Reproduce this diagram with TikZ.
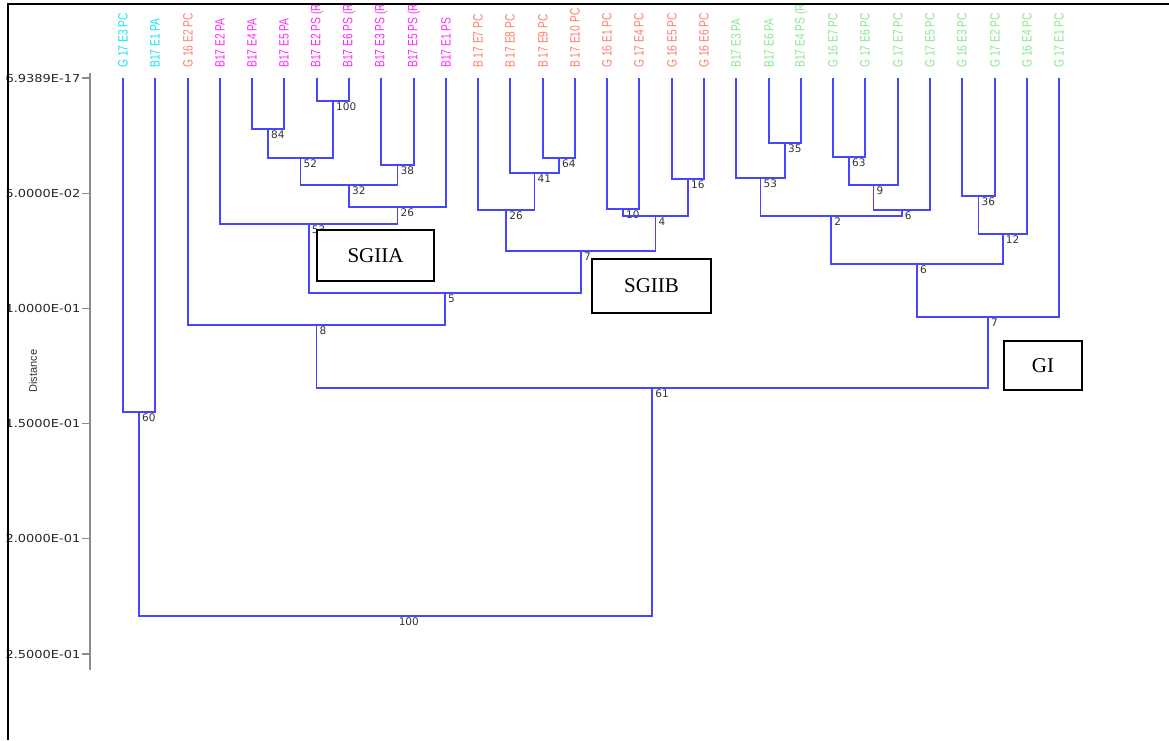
\documentclass[tikz,border=0pt]{standalone}
\usepackage{fontspec}
\usepackage{graphicx}
\usetikzlibrary{calc}
\newfontfamily\leaffont{Liberation Sans}
\newfontfamily\numfont{DejaVu Sans}
\newfontfamily\boxfont{Liberation Serif}
\definecolor{cyanlab}{RGB}{20,225,245}
\definecolor{pinklab}{RGB}{255,40,255}
\definecolor{salmonlab}{RGB}{255,125,105}
\definecolor{greenlab}{RGB}{140,230,140}
\definecolor{treeblue}{RGB}{70,70,255}
\newcommand{\joinat}[5]{%
  \coordinate (#1m) at ($(#2)!.5!(#3)$);
  \coordinate (#1) at (#1m |- 0,#4);
  \draw[tree] (#2) |- (#1) -| (#3);
  \node[boot] (#1t) at (#1) {#5};}

\begin{document}
\begin{tikzpicture}[x=1pt,y=-1pt,
  tree/.style={treeblue,line width=1.8pt},
  axis/.style={gray!90,line width=2pt},
  leaf/.style={rotate=90,anchor=west,inner sep=0,font=\leaffont\fontsize{13.5}{14}\selectfont},
  boot/.style={anchor=west,inner sep=0,xshift=3pt,yshift=-6pt,font=\numfont\fontsize{10.5}{11}\selectfont,text=black!80},
  ticklab/.style={anchor=east,inner sep=1pt,font=\numfont\fontsize{11}{12}\selectfont,text=black!85},
  grp/.style={draw=black,line width=1.5pt,fill=white,inner sep=0,font=\boxfont\fontsize{21}{24}\selectfont}]
\useasboundingbox (0,0) rectangle (1169,740);

\draw[axis] (90,73) -- (90,670);
\foreach \k/\t in {0/6.9389E-17,1/5.0000E-02,2/1.0000E-01,3/1.5000E-01,4/2.0000E-01,5/2.5000E-01}{
  \coordinate (tk\k) at (90,{78+115.2*\k});
  \draw[axis,line width=1.2pt] (tk\k) -- ++(-8,0) node[ticklab] {\scalebox{1.18}[1]{\t}};
}
\node[rotate=90,font=\leaffont\fontsize{11}{12}\selectfont,text=black!80] (dist) at (33,371) {Distance};

\begin{scope}
\clip (0,5) rectangle (1169,76);
\foreach \i/\lab/\col in {0/{G 17 E3 PC}/cyanlab,1/{B17 E1 PA}/cyanlab,2/{G 16 E2 PC}/salmonlab,
  3/{B17 E2 PA}/pinklab,4/{B17 E4 PA}/pinklab,5/{B17 E5 PA}/pinklab,6/{B17 E2 PS (R)}/pinklab,
  7/{B17 E6 PS (R)}/pinklab,8/{B17 E3 PS (R)}/pinklab,9/{B17 E5 PS (R)}/pinklab,10/{B17 E1 PS}/pinklab,
  11/{B 17 E7 PC}/salmonlab,12/{B 17 E8 PC}/salmonlab,13/{B 17 E9 PC}/salmonlab,14/{B 17 E10 PC}/salmonlab,
  15/{G 16 E1 PC}/salmonlab,16/{G 17 E4 PC}/salmonlab,17/{G 16 E5 PC}/salmonlab,18/{G 16 E6 PC}/salmonlab,
  19/{B17 E3 PA}/greenlab,20/{B17 E6 PA}/greenlab,21/{B17 E4 PS (R)}/greenlab,22/{G 16 E7 PC}/greenlab,
  23/{G 17 E6 PC}/greenlab,24/{G 17 E7 PC}/greenlab,25/{G 17 E5 PC}/greenlab,26/{G 16 E3 PC}/greenlab,
  27/{G 17 E2 PC}/greenlab,28/{G 16 E4 PC}/greenlab,29/{G 17 E1 PC}/greenlab}{
  \node[leaf,text=\col] (T\i) at ({round(123+32.28*\i)},68) {\scalebox{0.76}[1]{\lab}};
}
\end{scope}
\foreach \i in {0,...,29}
  \coordinate (L\i) at ({round(123+32.28*\i)},78);

\joinat{a100}{L6}{L7}{101}{100}
\joinat{a84}{L4}{L5}{129}{84}
\joinat{a52}{a84}{a100}{158}{52}
\joinat{a38}{L8}{L9}{165}{38}
\joinat{a32}{a52}{a38}{185}{32}
\joinat{a26}{a32}{L10}{207}{26}
\joinat{a53}{L3}{a26}{224}{53}
\joinat{b64}{L13}{L14}{158}{64}
\joinat{b41}{L12}{b64}{173}{41}
\joinat{b26}{L11}{b41}{210}{26}
\joinat{b10}{L15}{L16}{209}{10}
\joinat{b16}{L17}{L18}{179}{16}
\joinat{b4}{b10}{b16}{216}{4}
\joinat{b7}{b26}{b4}{251}{7}
\joinat{s5}{a53}{b7}{293}{5}
\joinat{s8}{L2}{s5}{325}{8}
\joinat{g35}{L20}{L21}{143}{35}
\joinat{g53}{L19}{g35}{178}{53}
\joinat{g63}{L22}{L23}{157}{63}
\joinat{g9}{g63}{L24}{185}{9}
\joinat{g6a}{g9}{L25}{210}{6}
\joinat{g2}{g53}{g6a}{216}{2}
\joinat{g36}{L26}{L27}{196}{36}
\joinat{g12}{g36}{L28}{234}{12}
\joinat{g6b}{g2}{g12}{264}{6}
\joinat{g7}{g6b}{L29}{317}{7}
\joinat{r61}{s8}{g7}{388}{61}
\joinat{c60}{L0}{L1}{412}{60}
\joinat{r100}{c60}{r61}{616}{100}

\node[grp,minimum width=117pt,minimum height=51pt] (sgiia) at (375.5,255.5) {SGIIA};
\node[grp,minimum width=119pt,minimum height=54pt] (sgiib) at (651.5,286) {SGIIB};
\node[grp,minimum width=78pt,minimum height=49pt] (gi) at (1043,365.5) {GI};

\draw[black,line width=1.5pt] (8,740) -- (8,4) -- (1169,4);
\end{tikzpicture}
\end{document}
